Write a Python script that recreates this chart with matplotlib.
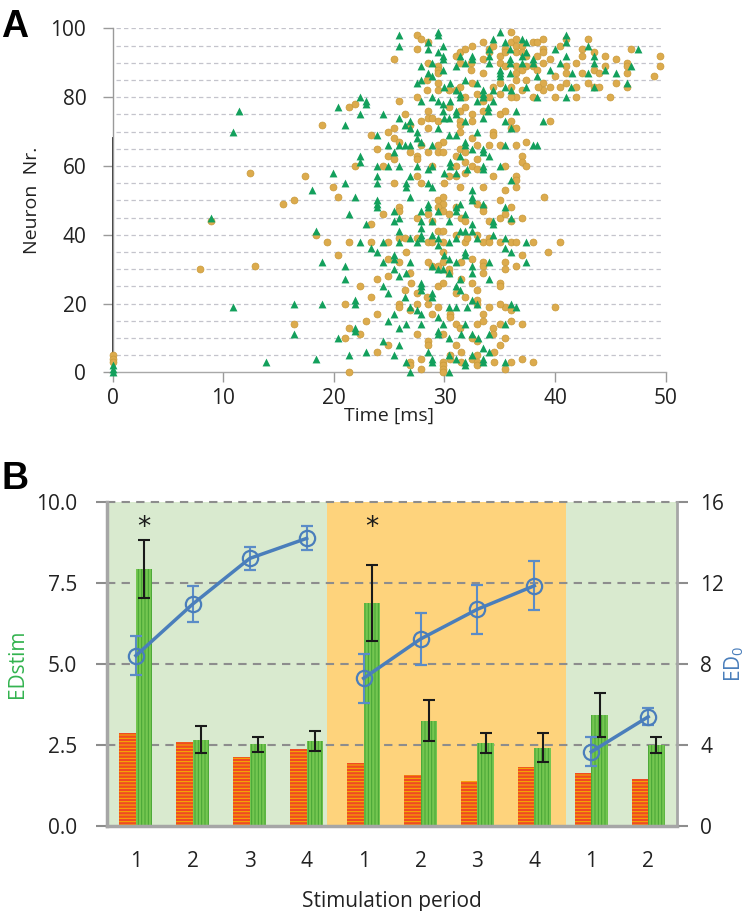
import numpy as np
import matplotlib.pyplot as plt

plt.rcParams['font.family'] = ['Open Sans', 'DejaVu Sans']

# ---- panel A: spike raster, (time in ms, neuron nr) ----
green_spikes = [
    (11.4, 76), (10.9, 70), (8.9, 45), (10.9, 19), (16.4, 20), (16.4, 11), (13.9, 3), (0, 2), (0, 1), (0, 0),
    (25.9, 98), (25.9, 95), (29.4, 99), (29.4, 98), (28.5, 96), (28.5, 94), (29.9, 95), (29.4, 93), (29.9, 92),
    (29.9, 91), (28.9, 90), (27.9, 89), (29.9, 88), (31.0, 89), (31.9, 90), (32.5, 92), (32.5, 91), (31.4, 92),
    (34.0, 94), (34.0, 92), (34.0, 90), (34.4, 97), (35.0, 99), (35.5, 96), (35.9, 94), (35.9, 91), (35.9, 90),
    (37.0, 97), (37.4, 96), (37.4, 93), (37.0, 92), (37.0, 90), (35.0, 88), (35.0, 87), (35.0, 86), (35.9, 87),
    (38.0, 91), (38.0, 90), (38.4, 86), (39.5, 88), (40.0, 94), (41.0, 98), (41.0, 96), (40.4, 90), (41.0, 92),
    (41.5, 87), (43.0, 95), (43.0, 87), (43.5, 92), (43.5, 90), (44.5, 88), (45.5, 87), (46.5, 84), (46.9, 89),
    (47.5, 94), (27.5, 84), (27.9, 85), (28.5, 87), (28.9, 86), (30.5, 84), (31.9, 85), (30.0, 83), (31.0, 82),
    (32.9, 84), (33.5, 82), (33.5, 81), (33.5, 80), (34.4, 82), (35.5, 83), (36.0, 82), (37.4, 83), (38.4, 80),
    (41.0, 80), (41.4, 83), (43.5, 83), (27.9, 79), (28.9, 80), (29.4, 79), (30.5, 79), (31.4, 80), (31.4, 81),
    (32.9, 79), (33.9, 77), (33.9, 76), (34.4, 79), (36.5, 76), (29.9, 78), (29.9, 76), (30.4, 74), (31.0, 76),
    (31.0, 75), (31.9, 73), (33.5, 74), (35.5, 73), (36.0, 71), (38.9, 73), (20.4, 77), (21.0, 72), (22.4, 80),
    (22.9, 79), (22.9, 78), (22.4, 75), (24.4, 75), (25.9, 74), (26.4, 72), (26.9, 73), (26.9, 71), (27.5, 70),
    (23.9, 69), (24.9, 66), (25.9, 66), (25.4, 64), (26.4, 66), (26.9, 66), (27.5, 68), (27.9, 67), (28.9, 66),
    (29.4, 71), (30.0, 74), (30.4, 69), (31.0, 69), (31.4, 63), (31.9, 67), (31.9, 66), (32.5, 65), (32.9, 70),
    (33.5, 64), (34.0, 63), (33.5, 65), (35.5, 66), (38.0, 66), (38.4, 66), (22.4, 63), (22.4, 61), (23.9, 60),
    (23.9, 57), (24.9, 60), (25.9, 60), (27.5, 60), (28.5, 59), (28.9, 60), (30.5, 61), (30.5, 60), (31.0, 58),
    (32.0, 59), (33.5, 60), (33.5, 59), (35.0, 60), (36.0, 56), (26.9, 57), (30.0, 58), (19.9, 58),
    (18.0, 53), (21.0, 55), (23.9, 55), (26.5, 55), (26.5, 54), (28.5, 55), (28.9, 54), (21.9, 51), (23.9, 50),
    (23.9, 49), (23.9, 48), (21.4, 46), (22.9, 43), (25.4, 47), (25.9, 45), (25.4, 44), (26.9, 51), (28.5, 49),
    (28.5, 48), (27.9, 47), (27.9, 44), (29.4, 47), (30.4, 44), (31.0, 48), (31.0, 47), (31.4, 49), (31.9, 46),
    (32.5, 51), (32.5, 50), (32.5, 53), (33.5, 49), (34.4, 44), (34.4, 43), (35.5, 48), (36.0, 45),
    (18.4, 41), (22.4, 38), (23.4, 36), (23.9, 35), (24.4, 38), (25.9, 41), (25.9, 38), (26.9, 39), (27.5, 38),
    (27.9, 42), (27.9, 40), (27.9, 39), (28.9, 44), (28.9, 40), (29.4, 39), (29.4, 37), (30.4, 38), (31.0, 39),
    (31.4, 41), (31.9, 41), (32.5, 41), (32.5, 43), (32.9, 39), (34.4, 40), (35.5, 39), (36.0, 35), (35.5, 36),
    (37.4, 38), (31.9, 35), (31.9, 34), (30.0, 34), (30.4, 33), (31.0, 32), (34.0, 32), (37.4, 32),
    (18.9, 32), (21.0, 31), (24.4, 32), (25.4, 34), (25.4, 33), (26.9, 32), (28.9, 31), (29.4, 30), (29.9, 30),
    (30.4, 29), (32.5, 31), (32.5, 29), (25.4, 30), (26.5, 29), (25.9, 28),
    (21.0, 27), (24.4, 25), (24.9, 23), (26.4, 22), (27.9, 26), (27.9, 25), (27.9, 24), (28.9, 23), (28.9, 22),
    (31.0, 25), (31.4, 24), (31.4, 27), (32.5, 21), (34.0, 27),
    (18.9, 20), (21.9, 21), (21.9, 20), (26.9, 19), (27.5, 18), (27.9, 17), (29.4, 16), (29.9, 14), (30.4, 19),
    (31.0, 19), (32.0, 19), (32.9, 20), (36.0, 20), (36.5, 19),
    (21.9, 13), (21.9, 12), (20.4, 10), (24.9, 15), (25.4, 17), (25.9, 13), (26.5, 14), (27.9, 14), (29.4, 12),
    (29.4, 11), (30.4, 10), (31.5, 11), (31.9, 14), (32.5, 11), (33.0, 10), (34.0, 11), (35.5, 14),
    (24.4, 9), (25.9, 8), (25.4, 5), (22.9, 6), (21.4, 5), (18.4, 4), (28.5, 6), (28.9, 4), (28.9, 3), (30.4, 5),
    (31.0, 4), (31.9, 3), (31.9, 2), (32.5, 5), (33.5, 7), (33.5, 4), (33.5, 3), (34.0, 6), (35.5, 3), (26.9, 0),
    (30.4, 0), (26.5, 3),
]

orange_spikes = [
    (12.4, 58), (8.9, 44), (7.9, 30), (12.9, 31), (15.4, 49), (16.4, 50), (16.4, 14), (0, 5), (0, 4), (0, 3),
    (27.5, 98), (27.9, 97), (27.5, 94), (28.5, 96), (25.4, 91), (28.5, 90), (29.4, 89), (29.4, 88), (29.4, 87),
    (31.0, 92), (31.4, 93), (31.9, 94), (32.5, 95), (31.4, 90), (32.4, 90), (32.4, 88), (33.5, 96), (33.5, 91),
    (33.5, 87), (34.0, 94), (34.0, 93), (34.4, 95), (35.0, 92), (35.0, 90), (35.5, 94), (35.5, 93), (35.5, 89),
    (36.0, 99), (36.0, 96), (36.5, 97), (36.5, 95), (36.5, 93), (36.5, 89), (36.5, 87), (37.0, 95), (37.0, 93),
    (37.0, 88), (37.4, 92), (37.4, 89), (38.0, 96), (38.0, 89), (38.4, 96), (38.4, 92), (38.4, 88), (38.9, 97),
    (38.9, 94), (38.9, 93), (38.9, 90), (39.5, 91), (40.0, 86), (40.4, 95), (41.0, 97), (41.0, 89), (41.0, 87),
    (41.9, 90), (42.4, 94), (42.4, 92), (42.4, 87), (43.0, 97), (43.5, 93), (43.5, 88), (44.0, 87), (44.5, 92),
    (44.5, 89), (45.5, 91), (46.5, 90), (46.5, 89), (46.5, 87), (46.9, 94), (48.9, 86), (49.5, 92), (49.5, 89),
    (43.0, 84), (43.5, 83), (44.0, 83), (45.5, 84), (45.0, 80), (46.5, 83), (41.9, 83), (41.9, 80), (40.0, 80),
    (41.0, 84), (40.4, 83), (39.5, 83), (38.9, 84), (38.9, 82), (38.0, 80), (38.5, 83), (37.4, 85), (36.5, 85),
    (36.0, 83), (36.5, 80), (37.0, 82), (36.0, 80), (35.0, 84), (35.0, 81), (34.4, 83), (34.0, 80), (33.5, 79),
    (32.5, 84), (32.9, 81), (31.9, 80), (31.4, 83), (31.0, 82), (30.4, 82), (29.4, 84), (29.4, 82), (28.4, 85),
    (28.4, 82), (27.5, 80), (25.9, 79),
    (21.4, 77), (21.9, 78), (18.9, 72), (23.4, 69), (24.9, 70), (25.4, 71), (25.4, 68), (26.4, 75), (26.9, 72),
    (27.9, 73), (28.5, 76), (28.5, 74), (28.5, 71), (28.9, 74), (29.4, 73), (30.4, 77), (31.4, 76), (31.4, 73),
    (31.4, 72), (31.4, 70), (31.9, 77), (32.5, 75), (32.5, 73), (33.5, 76), (34.4, 70), (34.4, 69), (35.0, 75),
    (35.5, 76), (36.0, 73), (36.0, 71), (36.5, 71), (39.5, 73),
    (23.9, 65), (24.9, 63), (25.4, 62), (25.9, 67), (26.9, 64), (27.5, 63), (27.5, 62), (27.9, 66), (28.5, 64),
    (29.4, 64), (29.9, 64), (29.9, 67), (29.4, 66), (31.0, 63), (31.4, 65), (31.9, 64), (32.5, 68), (32.9, 66),
    (32.9, 62), (34.0, 66), (35.0, 66), (36.5, 66), (37.0, 63), (37.4, 67), (37.0, 61), (37.4, 60),
    (21.9, 60), (24.4, 60), (27.5, 57), (28.9, 60), (30.4, 57), (31.0, 60), (31.0, 57), (31.9, 61), (31.9, 58),
    (32.5, 60), (32.9, 59), (34.4, 57), (35.5, 60), (36.5, 57), (36.5, 56), (17.4, 57),
    (19.9, 54), (20.4, 51), (25.4, 55), (27.9, 55), (30.0, 55), (31.4, 54), (33.5, 54), (35.5, 53), (36.5, 54),
    (39.0, 51), (29.4, 50), (29.9, 49), (29.9, 51), (29.4, 48), (25.9, 48), (25.9, 47), (24.4, 46), (27.5, 45),
    (28.5, 46), (28.9, 44), (29.9, 47), (30.4, 46), (31.0, 48), (31.5, 45), (31.9, 44), (32.9, 49), (33.5, 48),
    (33.5, 47), (35.0, 45), (35.5, 46), (36.0, 48), (36.0, 44), (37.0, 45), (34.0, 44), (35.0, 50),
    (23.4, 43), (18.4, 40), (19.4, 38), (21.4, 38), (23.4, 38), (24.9, 38), (25.9, 39), (26.4, 39), (27.5, 39),
    (28.5, 38), (28.9, 38), (29.4, 41), (29.9, 41), (29.9, 38), (31.0, 40), (31.9, 38), (32.0, 39), (32.9, 40),
    (33.5, 38), (34.0, 39), (34.0, 38), (35.0, 38), (36.0, 38), (36.5, 38), (38.0, 38), (39.4, 35), (40.4, 38),
    (20.4, 34), (24.9, 33), (25.9, 32), (26.9, 29), (26.5, 35), (28.5, 32), (28.9, 31), (29.4, 31), (29.9, 32),
    (29.9, 35), (30.4, 30), (30.4, 29), (31.5, 32), (32.5, 33), (33.5, 32), (33.5, 31), (33.5, 29), (35.5, 32),
    (35.5, 30), (36.5, 31), (37.0, 34),
    (23.9, 27), (22.4, 25), (24.9, 28), (23.4, 22), (23.9, 17), (25.9, 20), (25.9, 19), (21.0, 20), (22.9, 15),
    (21.4, 13), (22.4, 11), (21.0, 10),
    (26.4, 24), (27.0, 26), (27.5, 23), (28.4, 22), (28.9, 17), (29.4, 25), (29.9, 26), (31.0, 23), (31.5, 27),
    (31.9, 22), (32.5, 26), (32.9, 24), (32.9, 21), (32.9, 20), (35.0, 26), (35.0, 25), (36.0, 18), (35.5, 19),
    (35.0, 20), (34.0, 19), (40.0, 19),
    (26.9, 18), (27.5, 20), (28.5, 20), (29.4, 19), (30.5, 17), (30.5, 16), (31.0, 14), (31.4, 13), (32.9, 14),
    (33.5, 17), (33.5, 15), (34.4, 13), (35.0, 14), (36.0, 15), (37.0, 14),
    (27.5, 11), (28.5, 9), (28.5, 8), (29.9, 11), (31.0, 8), (31.5, 6), (32.5, 10), (32.9, 9), (34.4, 11),
    (35.0, 8), (34.5, 6), (35.5, 10),
    (24.9, 8), (23.9, 6), (27.9, 4), (26.9, 3), (26.9, 2), (27.9, 1), (29.9, 3), (29.9, 2), (29.9, 1), (29.9, 0),
    (30.5, 5), (30.5, 4), (31.5, 3), (32.5, 4), (32.9, 5), (32.9, 3), (32.9, 2), (34.5, 3), (36.0, 3), (37.0, 4),
    (38.0, 3), (35.5, 1), (21.4, 0),
]

# ---- panel B ----
periods = ['1', '2', '3', '4', '1', '2', '3', '4', '1', '2']
red_vals = [2.85, 2.59, 2.11, 2.38, 1.94, 1.56, 1.37, 1.80, 1.62, 1.43]
green_vals = [7.93, 2.65, 2.51, 2.62, 6.88, 3.24, 2.55, 2.41, 3.41, 2.49]
green_err = [0.90, 0.42, 0.24, 0.30, 1.17, 0.64, 0.30, 0.45, 0.68, 0.25]
ed0_vals = [8.40, 10.95, 13.20, 14.19, 7.28, 9.22, 10.69, 11.85, 3.65, 5.38]
ed0_err = [0.95, 0.91, 0.58, 0.60, 1.22, 1.29, 1.20, 1.21, 0.72, 0.41]
ed0_segments = [(0, 4), (4, 8), (8, 10)]
star_groups = [0, 4]
phases = [(0, 3.85, '#d9eacf'), (3.85, 8.06, '#fed37c'), (8.06, 10, '#d9eacf')]

fig = plt.figure(figsize=(7.51, 9.11), dpi=100)

# ================= A =================
ax1 = fig.add_axes([0.150, 0.5913, 0.7364, 0.3776])
ax1.set_xlim(0, 50)
ax1.set_ylim(0, 100)
for y in range(5, 101, 5):
    ax1.plot([0.3, 49.6], [y, y], color='#c4c4cc', lw=0.9, ls=(0, (3.5, 2.5)), zorder=1)

g = np.array(green_spikes)
o = np.array(orange_spikes)
ax1.scatter(o[:, 0], o[:, 1], s=25, marker='o', facecolor='#dcab4d', edgecolor='#c99a3a',
            lw=0.5, clip_on=False, zorder=3)
ax1.scatter(g[:, 0], g[:, 1], s=32, marker='^', color='#13a05c', lw=0, clip_on=False, zorder=4)

ax1.plot([0, 0], [0, 68], color='#222222', lw=1.3, zorder=2, clip_on=False)

for s in ['top', 'right']:
    ax1.spines[s].set_visible(False)
ax1.spines['left'].set_color('#9a9a9a')
ax1.spines['bottom'].set_color('#a8a8a8')
ax1.spines['left'].set_linewidth(1.0)
ax1.spines['bottom'].set_linewidth(1.0)
ax1.set_xticks(range(0, 51, 10))
ax1.set_yticks(range(0, 101, 20))
ax1.tick_params(axis='both', direction='out', length=7, width=1.0, color='#9a9a9a',
                labelsize=15, labelcolor='#222222')
ax1.tick_params(axis='y', pad=12)
ax1.tick_params(axis='x', pad=4)
ax1.set_xlabel('Time [ms]', fontsize=14, color='#222222')
ax1.xaxis.set_label_coords(0.5, -0.1)
ax1.set_ylabel('Neuron  Nr.', fontsize=14, color='#222222')
ax1.yaxis.set_label_coords(-0.13, 0.5)

fig.text(0.002, 0.99, 'A', fontsize=27, fontweight='bold', family='Liberation Sans', va='top')

# ================= B =================
ax2 = fig.add_axes([0.1431, 0.0936, 0.7579, 0.3557])
ax2.set_xlim(0, 10)
ax2.set_ylim(0, 10)
for x0, x1, c in phases:
    ax2.axvspan(x0, x1, color=c, lw=0, zorder=0)

ax2.set_yticks([0, 2.5, 5, 7.5, 10])
ax2.set_yticklabels(['0.0', '2.5', '5.0', '7.5', '10.0'])
for y in [2.5, 5, 7.5, 10]:
    ax2.plot([0, 10], [y, y], color='#8d8d8d', lw=1.5, ls=(0, (4, 3)), zorder=1, clip_on=False)

x = np.arange(len(periods)) + 0.5
w = 0.29
plt.rcParams['hatch.linewidth'] = 0.7
ax2.bar(x - w / 2, red_vals, w, facecolor='#f04a22', edgecolor='#f6b400', hatch='-----', lw=0, zorder=2)
ax2.bar(x + w / 2, green_vals, w, facecolor='#74c650', edgecolor='#45a334', hatch='|||||', lw=0, zorder=2)
ax2.errorbar(x + w / 2, green_vals, yerr=green_err, fmt='none', ecolor='#1a1a1a', elinewidth=1.5,
             capsize=4, capthick=1.5, zorder=4)
for i in star_groups:
    ax2.text(x[i] + w / 2, 9.2, '*', ha='center', va='center', fontsize=19, color='#1a1a1a',
             family='DejaVu Sans', zorder=5)

ax2.set_xticks(x)
ax2.set_xticklabels(periods)
for s in ['top', 'right']:
    ax2.spines[s].set_visible(False)
for s in ['left', 'bottom']:
    ax2.spines[s].set_color('#a6a6a6')
    ax2.spines[s].set_linewidth(2.5)
ax2.tick_params(axis='y', direction='out', length=8, width=1.5, color='#8d8d8d',
                labelsize=15, labelcolor='#222222', pad=14)
ax2.tick_params(axis='x', length=0, labelsize=15, labelcolor='#222222', pad=18)
ax2.set_xlabel('Stimulation period', fontsize=15, color='#222222')
ax2.xaxis.set_label_coords(0.5, -0.2)
ax2.set_ylabel('EDstim', fontsize=15, color='#33b34f')
ax2.yaxis.set_label_coords(-0.14, 0.5)

ax3 = ax2.twinx()
ax3.set_ylim(0, 16)
ax3.set_yticks([0, 4, 8, 12, 16])
for a, b in ed0_segments:
    ax3.errorbar(x[a:b], ed0_vals[a:b], yerr=ed0_err[a:b], fmt='o-', color='#4a7ebb', lw=2.5,
                 ms=11, mfc='none', mec='#4a7ebb', mew=1.6, ecolor='#5b8cc7', elinewidth=1.5,
                 capsize=4, capthick=1.5, zorder=5)
for s in ['top', 'left', 'bottom']:
    ax3.spines[s].set_visible(False)
ax3.spines['right'].set_color('#a6a6a6')
ax3.spines['right'].set_linewidth(2.0)
ax3.tick_params(axis='y', direction='out', length=8, width=1.5, color='#8d8d8d',
                labelsize=15, labelcolor='#222222', pad=9)
ax3.set_ylabel('ED$_\\mathregular{0}$', fontsize=15, color='#4a7ebb', rotation=90)
ax3.yaxis.set_label_coords(1.08, 0.5)

fig.text(0.002, 0.494, 'B', fontsize=27, fontweight='bold', family='Liberation Sans', va='top')

fig.savefig('out.png', dpi=100)
